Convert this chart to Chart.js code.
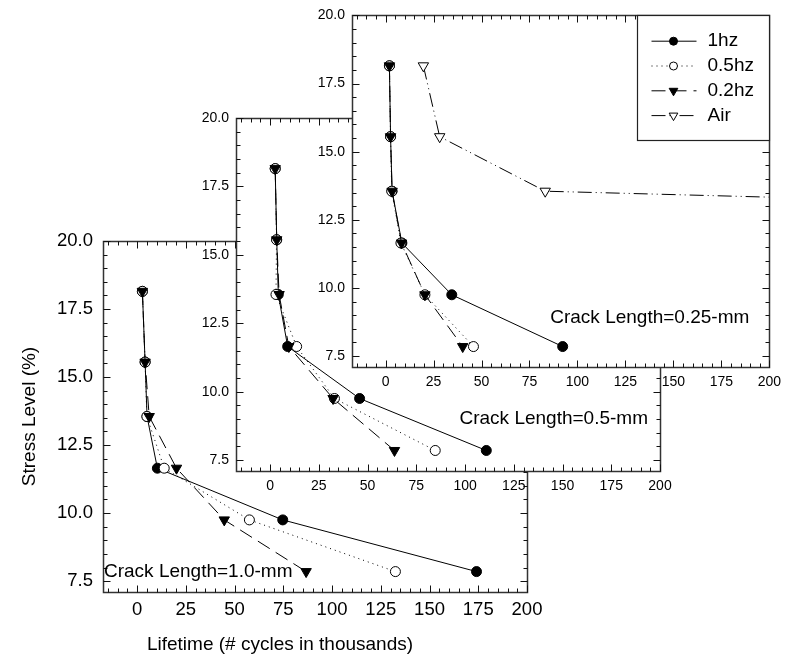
<!DOCTYPE html>
<html>
<head>
<meta charset="utf-8">
<title>Stress Level vs Lifetime</title>
<script src="https://cdn.jsdelivr.net/npm/chart.js@4.4.1/dist/chart.umd.min.js"></script>
<style>
html,body{margin:0;padding:0;background:#fff;}
#wrap{position:relative;width:788px;height:672px;}
#wrap canvas{position:absolute;left:0;top:0;}
</style>
</head>
<body>
<div id="wrap">
<canvas id="crack10" width="788" height="672"></canvas>
<canvas id="crack05" width="788" height="672"></canvas>
<canvas id="crack025" width="788" height="672"></canvas>
</div>
<script>
/*========== Data ==========*/

const stressLevels=[18.15,15.55,13.55,11.65,9.75,7.85];
const airLevels=[18.15,15.55,13.55,11.65];

const xTickLabels=[0,25,50,75,100,125,150,175,200];
const yTickLabels=[7.5,10,12.5,15,17.5,20];

// lifetime in thousands of cycles, one value per stress level
const life10_1hz=[2.7,4.1,5.1,10.4,74.7,174.1];
const life10_05hz=[2.7,4.1,5.0,13.9,57.6,132.5];
const life10_02hz=[2.7,4.1,6.2,20.2,44.7,86.7];

const life05_1hz=[2.6,3.4,4.2,9.0,45.9,110.9];
const life05_05hz=[2.6,3.3,3.0,13.6,33.0,84.7];
const life05_02hz=[2.6,3.4,4.6,9.6,32.3,63.8];

const life025_1hz=[2.0,2.6,3.4,8.5,34.5,92.3];
const life025_05hz=[2.0,2.6,3.2,8.0,20.5,45.8];
const life025_02hz=[2.0,2.6,3.4,8.3,20.5,40.2];
const life025_air=[19.7,28.2,83.2,1100];

/*========== Styles ==========*/

const FONT="'Liberation Sans', Arial, sans-serif";
const $=id=>document.getElementById(id);

const BASE={borderColor:"#000",borderWidth:1,tension:0,fill:false,pointBorderColor:"#000",pointBorderWidth:1};
const STYLE={
    hz1:{pointStyle:"circle",pointRadius:5,pointBackgroundColor:"#000",order:3},
    hz05:{borderDash:[1,4],pointStyle:"circle",pointRadius:5,pointBackgroundColor:"#fff",order:2},
    hz02:{borderDash:[14,7],pointStyle:"triangle",pointRotation:180,pointRadius:6,pointBackgroundColor:"#000",order:1},
    air:{borderDash:[14,4,1,4,1,4],pointStyle:"triangle",pointRotation:180,pointRadius:6,pointBackgroundColor:"#fff",order:4}
};

function series(label,xs,ys,style){
    return {label,data:xs.map((x,i)=>({x,y:ys[i]})),...BASE,...style};
}

/*========== Frame / ticks / notes ==========*/

const crisp=v=>Math.round(v)+0.5;

function drawFrame(chart){
    const {ctx,chartArea:a,scales:{x,y}}=chart;
    const l=crisp(a.left),r=crisp(a.right),t=crisp(a.top),b=crisp(a.bottom);
    ctx.save();
    ctx.strokeStyle="#333";
    ctx.lineWidth=1.5;
    ctx.setLineDash([]);
    ctx.strokeRect(l,t,r-l,b-t);
    ctx.strokeStyle="#111";
    ctx.lineWidth=1;
    ctx.beginPath();
    for(let i=-3;i<=40;i++){
        const px=crisp(x.getPixelForValue(i*5));
        const len=i%5===0?7:4;
        ctx.moveTo(px,b);ctx.lineTo(px,b-len);
        ctx.moveTo(px,t);ctx.lineTo(px,t+len);
    }
    for(let i=15;i<=40;i++){
        const py=crisp(y.getPixelForValue(i*0.5));
        const len=i%5===0?7:4;
        ctx.moveTo(l,py);ctx.lineTo(l+len,py);
        ctx.moveTo(r,py);ctx.lineTo(r-len,py);
    }
    ctx.stroke();
    ctx.restore();
}

function drawNote(chart,n){
    const {ctx,chartArea:a}=chart;
    ctx.save();
    ctx.fillStyle="#000";
    ctx.font=`${n.size}px ${FONT}`;
    ctx.textBaseline="middle";
    ctx.textAlign=n.align;
    ctx.fillText(n.text,n.align==="left"?a.left+n.dx:a.right-n.dx,a.bottom-n.dy);
    ctx.restore();
}

function drawXTitle(chart,t){
    const {ctx,chartArea:a}=chart;
    ctx.save();
    ctx.fillStyle="#000";
    ctx.font=`${t.size}px ${FONT}`;
    ctx.textBaseline="middle";
    ctx.textAlign="center";
    ctx.fillText(t.text,a.left+t.dx,a.bottom+t.dy);
    ctx.restore();
}

function marker(ctx,ds,x,y,r){
    ctx.fillStyle=ds.pointBackgroundColor;
    ctx.strokeStyle="#000";
    ctx.lineWidth=1;
    ctx.setLineDash([]);
    Chart.helpers.drawPoint(ctx,{pointStyle:ds.pointStyle,rotation:ds.pointRotation||0,radius:r,borderWidth:1},x,y);
}

function drawLegend(chart){
    const {ctx,chartArea:a}=chart;
    const w=132,h=125,left=crisp(a.right-w),top=crisp(a.top);
    ctx.save();
    ctx.fillStyle="#fff";
    ctx.fillRect(left,top,w,h);
    ctx.strokeStyle="#222";
    ctx.lineWidth=1.2;
    ctx.strokeRect(left,top,w,h);
    chart.data.datasets.forEach((ds,i)=>{
        const yy=top+25.7+24.8*i;
        ctx.strokeStyle="#000";
        ctx.lineWidth=1;
        ctx.setLineDash(ds.borderDash||[]);
        ctx.beginPath();
        ctx.moveTo(left+14,yy);ctx.lineTo(left+59,yy);
        ctx.stroke();
        marker(ctx,ds,left+36,yy,ds.pointStyle==="circle"?4:5);
        ctx.fillStyle="#000";
        ctx.font=`19px ${FONT}`;
        ctx.textBaseline="middle";
        ctx.textAlign="left";
        ctx.fillText(ds.label,left+70,yy);
    });
    ctx.restore();
}

const framePlugin={
    id:"frame",
    beforeDraw(chart){
        const {ctx,chartArea:a}=chart;
        ctx.save();
        ctx.fillStyle="#fff";
        ctx.fillRect(a.left,a.top,a.right-a.left,a.bottom-a.top);
        ctx.restore();
    },
    afterDatasetsDraw(chart,args,o){
        drawFrame(chart);
        if(o.note) drawNote(chart,o.note);
        if(o.legend) drawLegend(chart);
        if(o.xTitle) drawXTitle(chart,o.xTitle);
    }
};

/*========== Panels ==========*/

function buildPanel(id,datasets,box,opt){
    const xh=30;
    const tickFont={family:FONT,size:box.font};
    return new Chart($(id),{
        type:"line",
        data:{datasets},
        options:{
            responsive:false,animation:false,events:[],devicePixelRatio:1,
            layout:{padding:{left:box.left-box.yw,top:box.top,right:788-box.right,bottom:672-box.bottom-xh}},
            plugins:{legend:{display:false},tooltip:{enabled:false},frame:opt},
            scales:{
                x:{
                    type:"linear",min:-17.5,max:200,
                    grid:{display:false,drawTicks:false},border:{display:false},
                    afterBuildTicks:s=>{s.ticks=xTickLabels.map(v=>({value:v}));},
                    afterFit:s=>{s.height=xh;},
                    ticks:{autoSkip:false,maxRotation:0,padding:box.xpad,color:"#000",font:tickFont,callback:v=>String(v)}
                },
                y:{
                    type:"linear",min:7.1,max:20,
                    grid:{display:false,drawTicks:false},border:{display:false},
                    afterBuildTicks:s=>{s.ticks=yTickLabels.map(v=>({value:v}));},
                    afterFit:s=>{s.width=box.yw;},
                    ticks:{autoSkip:false,padding:box.ypad,color:"#000",font:tickFont,callback:v=>v.toFixed(1)},
                    title:{display:!!opt.yTitle,text:opt.yTitle||"",color:"#000",padding:0,font:{family:FONT,size:19}}
                }
            }
        },
        plugins:[framePlugin]
    });
}

buildPanel("crack10",[
    series("1hz",life10_1hz,stressLevels,STYLE.hz1),
    series("0.5hz",life10_05hz,stressLevels,STYLE.hz05),
    series("0.2hz",life10_02hz,stressLevels,STYLE.hz02)
],{left:103,top:241,right:527,bottom:592,yw:85,font:18.5,xpad:7,ypad:10},{
    yTitle:"Stress Level (%)",
    note:{text:"Crack Length=1.0-mm",align:"left",dx:1,dy:20,size:19},
    xTitle:{text:"Lifetime (# cycles in thousands)",dx:177,dy:53,size:19}
});

buildPanel("crack05",[
    series("1hz",life05_1hz,stressLevels,STYLE.hz1),
    series("0.5hz",life05_05hz,stressLevels,STYLE.hz05),
    series("0.2hz",life05_02hz,stressLevels,STYLE.hz02)
],{left:236,top:118,right:660,bottom:471,yw:60,font:14,xpad:7,ypad:7},{
    note:{text:"Crack Length=0.5-mm",align:"right",dx:12,dy:52,size:19}
});

buildPanel("crack025",[
    series("1hz",life025_1hz,stressLevels,STYLE.hz1),
    series("0.5hz",life025_05hz,stressLevels,STYLE.hz05),
    series("0.2hz",life025_02hz,stressLevels,STYLE.hz02),
    series("Air",life025_air,airLevels,STYLE.air)
],{left:352,top:15,right:775,bottom:367,yw:60,font:14,xpad:7,ypad:7},{
    note:{text:"Crack Length=0.25-mm",align:"right",dx:20,dy:49,size:19},
    legend:true
});
</script>
</body>
</html>
